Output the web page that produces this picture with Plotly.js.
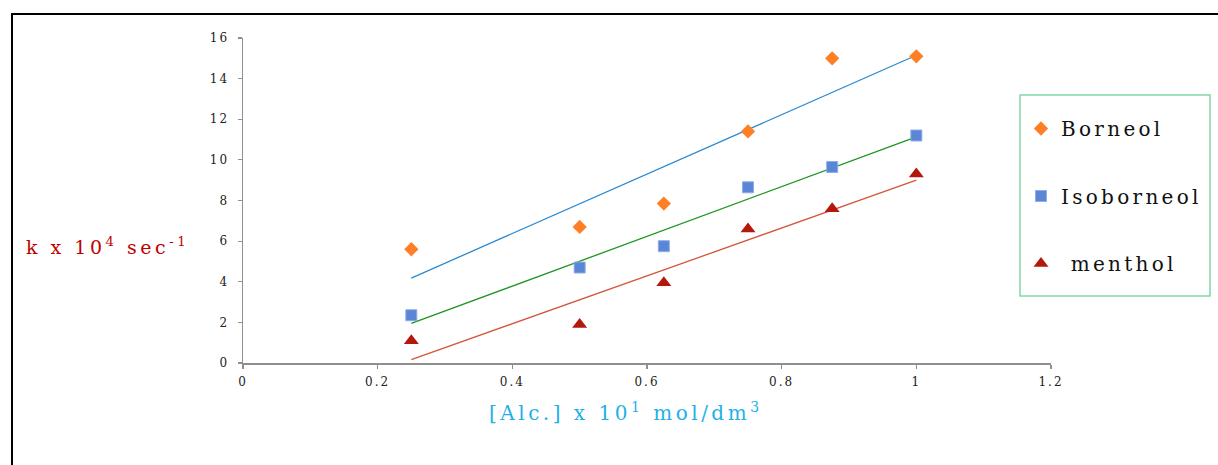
<!DOCTYPE html>
<html>
<head>
<meta charset="utf-8">
<script src="https://cdn.plot.ly/plotly-3.0.1.min.js"></script>
<style>
  html, body { margin: 0; padding: 0; background: #fff; }
  #frame { position: absolute; left: 11px; top: 13px; width: 1300px; height: 500px;
           border-top: 2.5px solid #000; border-left: 2.5px solid #000; z-index: 0; }
  #chart { position: absolute; left: 0; top: 0; width: 1218px; height: 465px; z-index: 1; }
  .xtick text, .ytick text { letter-spacing: 2px; }
  .legendtext { letter-spacing: 3.3px; }
  .annotation-text { letter-spacing: 3.5px; }
</style>
</head>
<body>
<div id="frame"></div>
<div id="chart"></div>
<script>
// Data
const concentration = [0.25, 0.5, 0.625, 0.75, 0.875, 1];
const borneol = [5.6, 6.7, 7.85, 11.4, 15.0, 15.1];
const isoborneol = [2.35, 4.7, 5.75, 8.65, 9.65, 11.2];
const menthol = [1.1, 1.9, 3.95, 6.6, 7.6, 9.3];
const seriesNames = ['Borneol', 'Isoborneol', '\u00a0menthol'];
const yTitle = 'k x 10<sup>4</sup> sec<sup>-1</sup>';
const xTitle = '[Alc.] x 10<sup>1</sup> mol/dm<sup>3</sup>';

// Linear least-squares trend line (as in the original spreadsheet trendline)
function trend(xs, ys) {
  const n = xs.length;
  const mx = xs.reduce((a, b) => a + b, 0) / n;
  const my = ys.reduce((a, b) => a + b, 0) / n;
  let sxy = 0, sxx = 0;
  for (let i = 0; i < n; i++) { sxy += (xs[i] - mx) * (ys[i] - my); sxx += (xs[i] - mx) ** 2; }
  const m = sxy / sxx, b = my - m * mx;
  const xe = [Math.min(...xs), Math.max(...xs)];
  return { x: xe, y: xe.map(v => m * v + b) };
}

const font = 'DejaVu Serif, Liberation Serif, serif';
const tb = trend(concentration, borneol);
const ti = trend(concentration, isoborneol);
const tm = trend(concentration, menthol);

const traces = [
  { x: tb.x, y: tb.y, mode: 'lines', line: { color: '#2B8AD0', width: 1.3 }, showlegend: false, hoverinfo: 'skip' },
  { x: ti.x, y: ti.y, mode: 'lines', line: { color: '#1E961E', width: 1.3 }, showlegend: false, hoverinfo: 'skip' },
  { x: tm.x, y: tm.y, mode: 'lines', line: { color: '#D4553A', width: 1.3 }, showlegend: false, hoverinfo: 'skip' },
  { x: concentration, y: borneol, mode: 'markers', name: seriesNames[0], legendgroup: 'a',
    marker: { symbol: 'diamond', size: 11, color: '#FF7F27', line: { width: 0 } } },
  { x: concentration, y: isoborneol, mode: 'markers', name: seriesNames[1], legendgroup: 'b',
    marker: { symbol: 'square', size: 11, color: '#5B85D5', line: { width: 1, color: '#8DAEEA' } } },
  { x: concentration, y: menthol, mode: 'markers', name: seriesNames[2], legendgroup: 'c',
    marker: { symbol: 'triangle-up', size: 13, color: '#B3180C', line: { width: 0 } } }
];

const L = 243, R = 1051, T = 38, B = 363;
const px = v => (v - L) / (R - L);
const py = v => (B - v) / (B - T);

const layout = {
  width: 1218, height: 465,
  margin: { l: L, r: 1218 - R, t: T, b: 465 - B, pad: 0, autoexpand: false },
  paper_bgcolor: 'rgba(0,0,0,0)', plot_bgcolor: 'rgba(0,0,0,0)',
  font: { family: font, color: '#222' },
  showlegend: true,
  xaxis: {
    range: [0, 1.2], dtick: 0.2, tick0: 0, showgrid: false, zeroline: false,
    showline: true, linecolor: '#8f8f8f', linewidth: 1.5,
    ticks: 'outside', ticklen: 4, tickcolor: '#8f8f8f', tickwidth: 1.2,
    tickfont: { family: font, size: 12, color: '#222' }, ticklabelstandoff: 3
  },
  yaxis: {
    range: [0, 16], dtick: 2, tick0: 0, showgrid: false, zeroline: false,
    showline: true, linecolor: '#8f8f8f', linewidth: 1.5,
    ticks: 'outside', ticklen: 4, tickcolor: '#8f8f8f', tickwidth: 1.2,
    tickfont: { family: font, size: 12, color: '#222' }, ticklabelstandoff: 6
  },
  legend: {
    x: px(1021), y: py(109), xanchor: 'left', yanchor: 'top',
    bgcolor: 'rgba(0,0,0,0)', borderwidth: 0,
    traceorder: 'grouped', tracegroupgap: 38.5,
    font: { family: font, size: 20, color: '#111' }
  },
  shapes: [
    { type: 'rect', xref: 'paper', yref: 'paper', x0: px(1020), x1: px(1210), y0: py(296), y1: py(95),
      line: { color: '#7FD9A5', width: 1.5 }, fillcolor: 'rgba(0,0,0,0)' }
  ],
  annotations: [
    { text: yTitle, xref: 'paper', yref: 'paper', x: px(24), y: py(246), xanchor: 'left', yanchor: 'middle',
      showarrow: false, font: { family: font, size: 19, color: '#C00000' } },
    { text: xTitle, xref: 'paper', yref: 'paper', x: px(626), y: py(412), xanchor: 'center', yanchor: 'middle',
      showarrow: false, font: { family: font, size: 20, color: '#1FB0E8' } }
  ]
};

Plotly.newPlot('chart', traces, layout, { displayModeBar: false, staticPlot: true });
</script>
</body>
</html>
